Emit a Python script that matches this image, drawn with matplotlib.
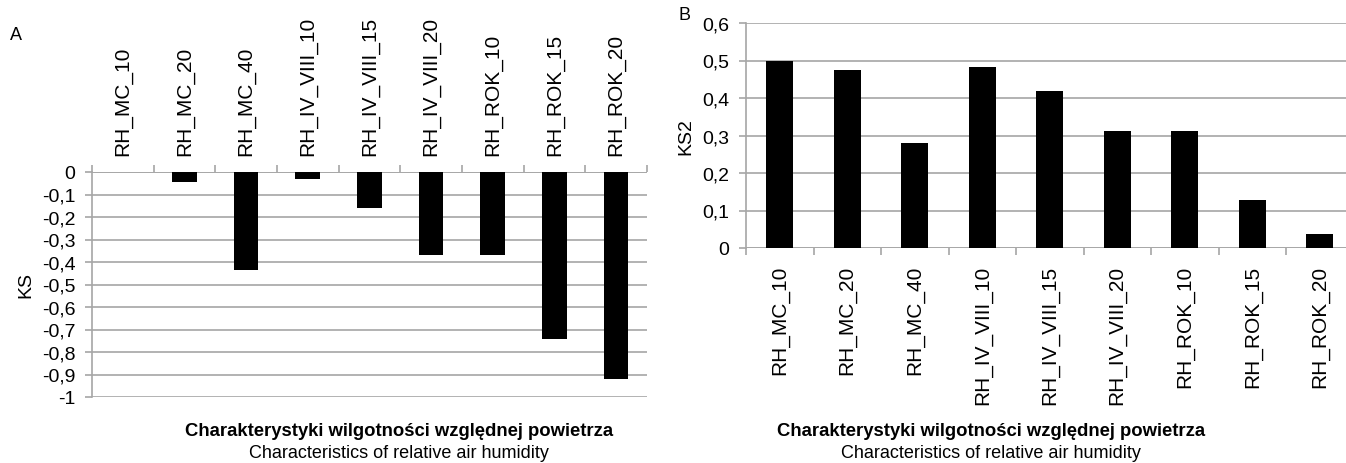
import numpy as np
import matplotlib
matplotlib.use('Agg')
import matplotlib.pyplot as plt
from matplotlib.ticker import FixedLocator, FuncFormatter

plt.rcParams['font.family'] = ['Liberation Sans', 'DejaVu Sans']

# data
labels = ['RH_MC_10', 'RH_MC_20', 'RH_MC_40', 'RH_IV_VIII_10', 'RH_IV_VIII_15',
          'RH_IV_VIII_20', 'RH_ROK_10', 'RH_ROK_15', 'RH_ROK_20']
ks = [0.0, -0.045, -0.435, -0.03, -0.16, -0.37, -0.37, -0.74, -0.92]
ks2 = [0.5, 0.475, 0.28, 0.483, 0.418, 0.313, 0.313, 0.128, 0.038]

W, H = 1346, 464
grid_c = '#a6a6a6'


def comma(v, pos=None):
    if abs(v - round(v)) < 1e-9:
        return '%d' % round(v)
    return ('%.1f' % v).replace('.', ',')


def style(ax, ymin, ymax, top):
    x = np.arange(len(labels))
    ax.set_xlim(-0.5, len(labels) - 0.5)
    ax.set_ylim(ymin, ymax)
    ax.set_yticks(np.round(np.arange(ymin, ymax + 0.001, 0.1), 1))
    ax.yaxis.set_major_formatter(FuncFormatter(comma))
    ax.grid(axis='y', color=grid_c, linewidth=1.2)
    ax.set_axisbelow(True)
    for s in ['top', 'right', 'bottom', 'left']:
        ax.spines[s].set_visible(False)
    ax.spines['left'].set_visible(True)
    ax.spines['left'].set_color(grid_c)
    ax.spines['left'].set_linewidth(1.2)
    # category boundaries as major ticks, labels on minor ticks
    ax.xaxis.set_major_locator(FixedLocator(np.arange(-0.5, len(labels), 1.0)))
    ax.xaxis.set_major_formatter(FuncFormatter(lambda v, p: ''))
    ax.xaxis.set_minor_locator(FixedLocator(x))
    ax.set_xticklabels(labels, minor=True, rotation=90, fontsize=15)
    ax.tick_params(axis='x', which='major', length=5, width=1.2, color=grid_c,
                   direction='out')
    ax.tick_params(axis='x', which='minor', length=0, pad=12)
    ax.tick_params(axis='y', length=5, width=1.2, color=grid_c, labelsize=14, pad=7)
    if top:
        ax.xaxis.tick_top()
        ax.tick_params(axis='x', which='both', top=True, bottom=False,
                       labeltop=True, labelbottom=False)
    ax.axhline(0, color=grid_c, linewidth=1.2, zorder=1)


fig = plt.figure(figsize=(W / 100, H / 100), dpi=100)

# panel A
axA = fig.add_axes([92 / W, 1 - 398 / H, (647 - 92) / W, (398 - 173) / H])
axA.bar(np.arange(len(labels)), ks, width=0.4, color='black', zorder=3)
style(axA, -1.0, 0.0, top=True)
axA.set_ylabel('KS', fontsize=14, labelpad=5)

# panel B
axB = fig.add_axes([746 / W, 1 - 249 / H, (1353.5 - 746) / W, (249 - 24) / H])
axB.bar(np.arange(len(labels)), ks2, width=0.4, color='black', zorder=3)
style(axB, 0.0, 0.6, top=False)
axB.set_ylabel('KS2', fontsize=14, labelpad=6)

fig.text(10 / W, 1 - 35 / H, 'A', fontsize=13, va='center', ha='left')
fig.text(678 / W, 1 - 15 / H, 'B', fontsize=13, va='center', ha='left')

for cx in (399, 991):
    fig.text(cx / W, 1 - 432 / H, 'Charakterystyki wilgotności względnej powietrza',
             fontsize=13.3, fontweight='bold', ha='center', va='center')
    fig.text(cx / W, 1 - 454 / H, 'Characteristics of relative air humidity',
             fontsize=13, ha='center', va='center')

fig.savefig('out.png', dpi=100)
